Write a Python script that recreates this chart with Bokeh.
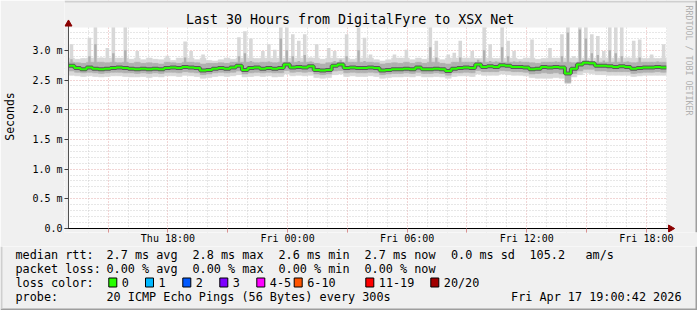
import numpy as np
from bokeh.plotting import figure
from bokeh.layouts import column
from bokeh.models import FixedTicker, Range1d
from bokeh.core.properties import value
from bokeh.embed import file_html
from bokeh.resources import INLINE

# ---------------- data ----------------
T_START = 13 + 42 / 3600.0      # Thu 13:00:42, hours since Thu 00:00
T_END = T_START + 30.0          # Fri 19:00:42
STEP = 0.3                      # hours per consolidated point

# median rtt (ms)
med = [2.74,2.70,2.68,2.71,2.69,2.68,2.69,2.70,2.71,2.70,
       2.69,2.68,2.69,2.68,2.69,2.68,2.70,2.71,2.70,2.72,
       2.71,2.70,2.66,2.67,2.69,2.70,2.69,2.71,2.74,2.67,
       2.70,2.71,2.69,2.70,2.69,2.70,2.76,2.71,2.72,2.71,
       2.73,2.67,2.66,2.67,2.74,2.76,2.70,2.71,2.70,2.70,
       2.71,2.70,2.66,2.67,2.68,2.68,2.69,2.68,2.71,2.68,
       2.68,2.69,2.68,2.65,2.69,2.70,2.71,2.70,2.76,2.72,
       2.73,2.72,2.75,2.74,2.72,2.72,2.71,2.68,2.69,2.72,
       2.71,2.72,2.71,2.61,2.69,2.76,2.79,2.78,2.74,2.74,
       2.73,2.72,2.73,2.72,2.69,2.70,2.71,2.71,2.72,2.71]
# highest ping (light smoke top)
hi = [3.10,2.85,2.86,3.21,3.40,2.88,3.04,3.40,2.87,3.40,
      2.85,2.99,2.84,2.87,2.85,2.84,2.91,2.83,2.87,3.15,
      2.99,2.84,2.93,2.83,2.82,2.84,2.87,2.85,3.22,3.32,
      3.20,2.86,2.99,3.10,3.01,3.40,3.40,3.27,3.16,3.27,
      2.88,3.10,2.85,3.04,2.99,2.86,3.27,2.85,3.40,3.21,
      2.93,2.84,2.82,2.84,2.93,2.87,3.01,2.84,2.87,2.85,
      3.40,3.16,2.84,2.93,2.96,3.16,2.87,2.99,2.86,3.40,
      3.10,2.86,3.40,3.16,2.99,2.85,2.87,3.18,2.85,2.86,
      3.04,2.87,3.27,3.40,2.90,3.40,3.40,3.27,3.24,2.99,
      3.40,3.40,3.40,2.88,3.16,3.18,2.86,2.93,2.86,3.10]
# upper medium smoke
mh = [2.85,2.79,2.78,2.90,3.10,2.80,2.79,2.95,2.79,3.00,
      2.78,2.80,2.78,2.79,2.78,2.77,2.80,2.79,2.78,2.88,
      2.80,2.79,2.77,2.78,2.78,2.79,2.78,2.80,2.90,2.95,
      2.82,2.79,2.80,2.81,2.79,3.20,3.00,2.90,2.82,2.92,
      2.81,2.78,2.77,2.79,2.82,2.84,2.90,2.80,3.00,2.82,
      2.80,2.79,2.77,2.78,2.79,2.78,2.80,2.78,2.80,2.78,
      3.05,2.88,2.78,2.77,2.80,2.88,2.80,2.80,2.84,3.00,
      2.82,2.81,3.05,2.90,2.81,2.81,2.80,2.79,2.78,2.80,
      2.80,2.81,2.90,3.30,2.79,3.35,3.20,2.95,2.92,2.83,
      3.00,2.95,2.90,2.81,2.79,2.88,2.80,2.80,2.81,2.80]
# lower medium smoke
ml = [2.65,2.63,2.62,2.63,2.62,2.61,2.62,2.63,2.63,2.62,
      2.62,2.61,2.62,2.61,2.62,2.61,2.63,2.63,2.62,2.64,
      2.63,2.62,2.59,2.60,2.62,2.63,2.62,2.63,2.65,2.60,
      2.62,2.63,2.62,2.63,2.62,2.62,2.66,2.63,2.64,2.63,
      2.64,2.60,2.59,2.60,2.65,2.66,2.62,2.63,2.62,2.62,
      2.63,2.62,2.59,2.60,2.61,2.61,2.62,2.61,2.63,2.61,
      2.61,2.62,2.61,2.58,2.62,2.62,2.63,2.62,2.66,2.64,
      2.64,2.64,2.66,2.65,2.64,2.64,2.63,2.60,2.61,2.62,
      2.61,2.62,2.60,2.46,2.61,2.65,2.68,2.68,2.65,2.65,
      2.64,2.64,2.64,2.64,2.61,2.62,2.63,2.63,2.64,2.63]
# lowest ping (light smoke bottom)
lo = [2.58,2.57,2.56,2.57,2.56,2.55,2.56,2.57,2.57,2.56,
      2.55,2.55,2.56,2.54,2.56,2.55,2.57,2.57,2.56,2.58,
      2.57,2.56,2.53,2.54,2.56,2.57,2.56,2.57,2.59,2.55,
      2.56,2.57,2.56,2.57,2.55,2.56,2.60,2.57,2.58,2.57,
      2.58,2.54,2.53,2.54,2.59,2.60,2.56,2.57,2.56,2.56,
      2.57,2.56,2.53,2.54,2.55,2.55,2.56,2.55,2.57,2.55,
      2.55,2.56,2.55,2.53,2.56,2.57,2.57,2.56,2.60,2.58,
      2.58,2.58,2.60,2.59,2.58,2.58,2.57,2.54,2.53,2.53,
      2.53,2.54,2.53,2.44,2.55,2.59,2.62,2.61,2.59,2.59,
      2.58,2.58,2.58,2.58,2.56,2.57,2.58,2.58,2.58,2.58]

x_ticks = [18, 24, 30, 36, 42]
x_tick_labels = ["Thu 18:00", "Fri 00:00", "Fri 06:00", "Fri 12:00", "Fri 18:00"]
y_ticks = [0.0, 0.5, 1.0, 1.5, 2.0, 2.5, 3.0]
y_tick_labels = ["0.0", "0.5 m", "1.0 m", "1.5 m", "2.0 m", "2.5 m", "3.0 m"]

title = "Last 30 Hours from DigitalFyre to XSX Net"
rtt_stats = ["2.7 ms avg", "2.8 ms max", "2.6 ms min", "2.7 ms now", "0.0 ms sd", "105.2", "am/s"]
loss_stats = ["0.00 % avg", "0.00 % max", "0.00 % min", "0.00 % now"]
loss_labels = ["0", "1", "2", "3", "4-5", "6-10", "11-19", "20/20"]
loss_colors = ["#26ff00", "#00b8ff", "#0059ff", "#7e00ff", "#ff00ff", "#ff5500", "#ff0000", "#a10000"]
probe_text = "20 ICMP Echo Pings (56 Bytes) every 300s"
stamp = "Fri Apr 17 19:00:42 2026"

# ---------------- geometry (canvas pixels) ----------------
W, H = 697, 310
PX_L, PX_R, PX_T, PX_B = 66, 666, 27, 228     # plotting area
PX_PER_H = (PX_R - PX_L) / 30.0              # 20 px per hour
PX_PER_MS = 59.4
MAIN_H = 246
FRAME_L, FRAME_B = 62, 232                   # frame of main figure
MONO = "DejaVu Sans Mono"
BG = "#f0f0f0"

def xd(px):
    return T_START + (px - PX_L) / PX_PER_H

def yd(py):
    return (PX_B - py) / PX_PER_MS

p = figure(width=W, height=MAIN_H,
           x_range=Range1d(xd(FRAME_L), xd(W)), y_range=Range1d(yd(FRAME_B), yd(0)),
           output_backend="svg", toolbar_location=None, title=None,
           min_border_left=FRAME_L, min_border_right=0, min_border_top=0,
           min_border_bottom=MAIN_H - FRAME_B, background_fill_color="white",
           border_fill_color=BG, outline_line_color=None)

n = len(med)
t = T_START + (np.arange(n) + 0.5) * STEP
edges = T_START + np.arange(n + 1) * STEP
hi_a = np.array(hi); mh_a = np.array(mh)

LIGHT, MID, DARK = "#d8d8d8", "#b0b0b0", "#5a5a5a"
p.vbar(x=t, width=STEP, bottom=lo, top=np.minimum(hi_a, 2.87), fill_color=LIGHT, line_color=LIGHT, line_width=0.5)
p.vbar(x=t, width=STEP * 0.6, bottom=lo, top=hi_a, fill_color=LIGHT, line_color=None)
p.vbar(x=t, width=STEP, bottom=ml, top=np.minimum(mh_a, 2.80), fill_color=MID, line_color=MID, line_width=0.5)
p.vbar(x=t, width=STEP * 0.4, bottom=ml, top=mh_a, fill_color=MID, line_color=None)
med_edges = list(med) + [med[-1]]
p.step(edges, med_edges, mode="after", line_color=DARK, line_width=4)
p.step(edges, med_edges, mode="after", line_color="#26ff00", line_width=2)

# canvas-coloured margins inside the frame (around the plotting area)
xa, xb, ya, yb = xd(FRAME_L), xd(W), yd(FRAME_B), yd(0)
p.quad(left=[xa, xa, xa, xd(PX_R)], right=[xb, xb, T_START, xb],
       bottom=[yd(PX_T), ya, ya, ya], top=[yb, 0, yb, yb],
       fill_color=BG, line_color=None)
# outer shading lines
p.quad(left=[xa], right=[xb], bottom=[yd(2)], top=[yb], fill_color="#cfcfcf", line_color=None)
p.quad(left=[xd(W - 2)], right=[xb], bottom=[ya], top=[yb], fill_color="#9e9e9e", line_color=None)

# axis lines and arrow heads
p.segment(x0=[T_START, xd(62)], y0=[0, 0], x1=[T_START, xd(671)], y1=[yd(24), 0],
          line_color=["#505050", "black"], line_width=1)
p.scatter(x=[T_START, xd(670)], y=[yd(23.5), 0], marker="triangle", size=7,
          angle=[0, -np.pi / 2], fill_color="#8b0000", line_color="#8b0000")

# title and side note
p.text(x=[xd(W / 2)], y=[yd(19.3)], text=[title], text_font=value(MONO),
       text_font_size=value("13.3px"), text_align="center", text_baseline="middle", text_color="black")
p.text(x=[xd(688.5)], y=[yd(5)], text=["RRDTOOL / TOBI OETIKER"], angle=-np.pi / 2,
       text_font=value(MONO), text_font_size=value("8.3px"), text_align="left",
       text_baseline="middle", text_color="#b0b0b0")

# grids
p.xgrid.ticker = FixedTicker(ticks=list(range(15, 43, 3)),
                             minor_ticks=[h for h in range(14, 44) if h % 3 != 0])
p.ygrid.ticker = FixedTicker(ticks=[0.5, 1.0, 1.5, 2.0, 2.5, 3.0],
                             minor_ticks=[round(v * 0.1, 1) for v in range(1, 34) if v % 5 != 0])
for g in (p.xgrid, p.ygrid):
    g.grid_line_color = "#e4aaaa"
    g.grid_line_dash = "1 2"
    g.minor_grid_line_color = "#cfcfcf"
    g.minor_grid_line_dash = "1 2"

# axes (ticks and labels; their lines are drawn above at the data origin)
p.xaxis.ticker = FixedTicker(ticks=x_ticks, minor_ticks=[15, 21, 27, 33, 39])
p.xaxis.major_label_overrides = dict(zip(x_ticks, x_tick_labels))
p.yaxis.ticker = FixedTicker(ticks=y_ticks)
p.yaxis.major_label_overrides = dict(zip(y_ticks, y_tick_labels))
for ax in (p.xaxis, p.yaxis):
    ax.axis_line_color = None
    ax.major_label_text_font = MONO
    ax.major_label_text_font_size = "10px"
    ax.major_label_text_color = "black"
    ax.major_tick_out = 0
    ax.minor_tick_out = 0
p.xaxis.major_tick_in = 4
p.xaxis.minor_tick_in = 4
p.xaxis.major_tick_line_color = "#d89090"
p.xaxis.minor_tick_line_color = "#d89090"
p.xaxis.major_label_standoff = 0
p.yaxis.major_tick_in = 4
p.yaxis.major_tick_line_color = "#404040"
p.yaxis.minor_tick_line_color = None
p.yaxis.major_label_standoff = 2
p.yaxis.axis_label = "Seconds"
p.yaxis.axis_label_text_font = MONO
p.yaxis.axis_label_text_font_size = "11.5px"
p.yaxis.axis_label_text_font_style = "normal"
p.yaxis.axis_label_text_color = "black"
p.yaxis.axis_label_standoff = 12

# ---------------- legend strip ----------------
LEG_H = H - MAIN_H
q = figure(width=W, height=LEG_H, x_range=Range1d(0, W), y_range=Range1d(H, MAIN_H),
           output_backend="svg", toolbar_location=None, title=None,
           x_axis_location=None, y_axis_location=None,
           min_border=0, min_border_left=0, min_border_right=0, min_border_top=0, min_border_bottom=0,
           background_fill_color=BG, border_fill_color=BG, outline_line_color=None)
q.grid.visible = False
for fig in (p, q):
    if "frame_align" in fig.properties():
        fig.frame_align = False

ROW = [254, 268.3, 282, 296]
tx, ty, tt = [], [], []
def put(x, y, s):
    tx.append(x); ty.append(y); tt.append(s)

put(15, ROW[0], "median rtt:")
for xpos, s in zip([106, 192, 278, 364, 450.5, 529, 585], rtt_stats):
    put(xpos, ROW[0], s)
put(15, ROW[1], "packet loss:")
for xpos, s in zip([106, 192, 278, 364], loss_stats):
    put(xpos, ROW[1], s)
put(15, ROW[2], "loss color:")
box_x = [108.3, 145, 182.3, 219.3, 256.3, 293.7, 365.3, 430.3]
for bx, s in zip(box_x, loss_labels):
    put(bx + 13, ROW[2], s)
put(15, ROW[3], "probe:")
put(106, ROW[3], probe_text)

q.text(x=tx, y=ty, text=tt, text_font=value(MONO), text_font_size=value("11.8px"),
       text_align="left", text_baseline="middle", text_color="black")
q.text(x=[681], y=[ROW[3]], text=[stamp], text_font=value(MONO), text_font_size=value("11.8px"),
       text_align="right", text_baseline="middle", text_color="black")
q.quad(left=box_x, right=[b + 8 for b in box_x], top=[277.5] * 8, bottom=[286.5] * 8,
       fill_color=loss_colors, line_color="black", line_width=1)
# outer shading lines
q.quad(left=[0], right=[W], top=[H - 2], bottom=[H], fill_color="#9e9e9e", line_color=None)
q.quad(left=[W - 2], right=[W], top=[MAIN_H], bottom=[H], fill_color="#9e9e9e", line_color=None)
q.quad(left=[0], right=[2], top=[MAIN_H], bottom=[H - 2], fill_color="#cfcfcf", line_color=None)

layout = column(p, q, spacing=0)
open("out.html", "w").write(file_html(layout, INLINE))
